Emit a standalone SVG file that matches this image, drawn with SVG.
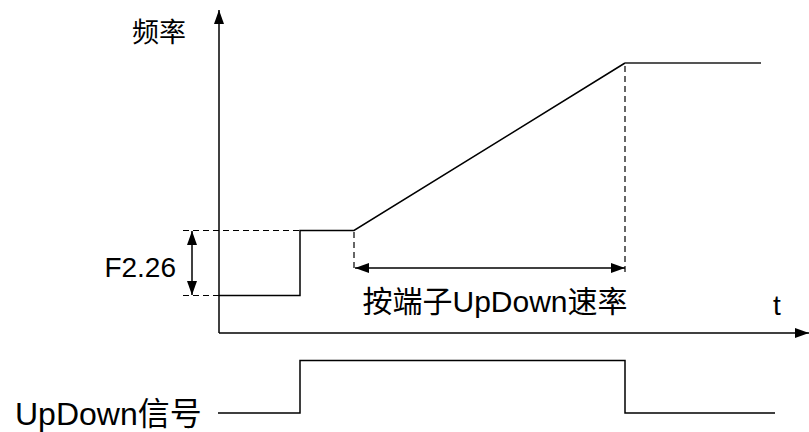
<svg xmlns="http://www.w3.org/2000/svg" width="809" height="432" viewBox="0 0 809 432">
<defs>
<style>
.ln{fill:none;stroke:#000;stroke-width:1.5}
.ds{fill:none;stroke:#000;stroke-width:1.2;stroke-dasharray:6,4}
.tx{font-family:"Liberation Sans","Noto Sans CJK SC",sans-serif;fill:#000}
</style>
<marker id="ah" viewBox="0 0 14 10" refX="14" refY="5" markerWidth="14" markerHeight="10" markerUnits="userSpaceOnUse" orient="auto-start-reverse">
<path d="M0,0 L14,5 L0,10 Z" fill="#000"/>
</marker>
</defs>
<rect width="809" height="432" fill="#fff"/>
<g id="axes">
<line class="ln" x1="219" y1="333" x2="219" y2="10" marker-end="url(#ah)"/>
<line class="ln" x1="219" y1="333" x2="809" y2="333" marker-end="url(#ah)"/>
</g>
<g id="connectors">
<polyline class="ln" points="219,295.5 300,295.5 300,230.5 354,230.5 625,63"/>
<line x1="625" y1="63" x2="761" y2="63" stroke="#555" stroke-width="2.2"/>
<line class="ds" x1="183" y1="230.5" x2="300" y2="230.5"/>
<line class="ds" x1="183" y1="295.5" x2="219" y2="295.5"/>
<line class="ds" x1="354" y1="232" x2="354" y2="272"/>
<line class="ds" x1="625" y1="66" x2="625" y2="272"/>
<line class="ln" x1="192" y1="231" x2="192" y2="295" marker-start="url(#ah)" marker-end="url(#ah)"/>
<line class="ln" x1="355" y1="268" x2="625" y2="268" marker-start="url(#ah)" marker-end="url(#ah)"/>
<polyline class="ln" points="218,413 300,413 300,360.5 625,360.5 625,413 775,413"/>
</g>
<g id="labels">
<text class="tx" x="132" y="42" font-size="27">频率</text>
<text class="tx" x="176" y="277" font-size="28" text-anchor="end">F2.26</text>
<text class="tx" x="773" y="315" font-size="28">t</text>
<text class="tx" x="495" y="312" font-size="30" text-anchor="middle">按端子UpDown速率</text>
<text class="tx" x="15" y="425" font-size="32">UpDown信号</text>
</g>
</svg>
